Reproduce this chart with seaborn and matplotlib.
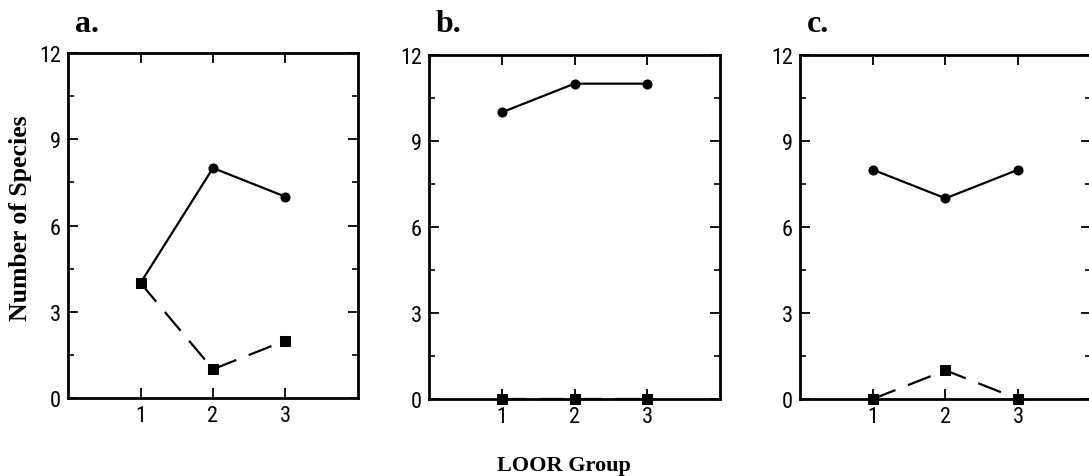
import numpy as np
import pandas as pd
import matplotlib
matplotlib.use("Agg")
import matplotlib.pyplot as plt
import seaborn as sns
from matplotlib.ticker import MultipleLocator, FixedLocator
from matplotlib import font_manager

# ---- data ----
groups = [1, 2, 3]
panel_labels = ["a.", "b.", "c."]
solid_a = [4, 8, 7]
dashed_a = [4, 1, 2]
solid_b = [10, 11, 11]
dashed_b = [0, 0, 0]
solid_c = [8, 7, 8]
dashed_c = [0, 1, 0]
yticks = [0, 3, 6, 9, 12]
x_label = "LOOR Group"
y_label = "Number of Species"

sns.set_style("ticks")
names = {f.name for f in font_manager.fontManager.ttflist}
cands = ['Liberation Sans Narrow', 'DejaVu Sans Condensed', 'Roboto Condensed']
tick_fam = [c for c in cands if c in names] + ['DejaVu Sans']
plt.rcParams['font.family'] = tick_fam
plt.rcParams['font.stretch'] = 'condensed'
for k in ['text.color', 'axes.labelcolor', 'xtick.color', 'ytick.color',
          'axes.edgecolor']:
    plt.rcParams[k] = 'black'

fig = plt.figure(figsize=(10.89, 4.77), dpi=100)
W, H = 1089, 477
boxes = [(68, 54, 358, 399), (429, 56, 720, 400), (800, 56, 1091, 400)]
series = [(solid_a, dashed_a), (solid_b, dashed_b), (solid_c, dashed_c)]

serif_bold = dict(family=['Liberation Serif', 'DejaVu Serif'], weight='bold',
                  color='black')

axes = []
for (l, t, r, b), (s, d), lab in zip(boxes, series, panel_labels):
    ax = fig.add_axes([l / W, 1 - b / H, (r - l) / W, (b - t) / H])
    axes.append(ax)
    df = pd.DataFrame({"group": groups, "solid": s, "dashed": d})
    sns.lineplot(data=df, x="group", y="solid", ax=ax, color="black",
                 linewidth=1.6, marker="o", markersize=6.5,
                 markeredgecolor="black", clip_on=False)
    sns.lineplot(data=df, x="group", y="dashed", ax=ax, color="black",
                 linewidth=1.6, marker="s", markersize=6.5,
                 markeredgecolor="black", linestyle=(0, (11, 6)),
                 clip_on=False)
    ax.set_xlim(0, 4)
    ax.set_ylim(0, 12)
    ax.xaxis.set_major_locator(FixedLocator(groups))
    ax.yaxis.set_major_locator(FixedLocator(yticks))
    ax.yaxis.set_minor_locator(MultipleLocator(1.5))
    ax.tick_params(axis='both', which='major', direction='in', length=7,
                   width=1.3, top=True, right=True, labelsize=16, pad=5,
                   color='black', labelcolor='black')
    ax.tick_params(axis='y', which='minor', direction='in', length=4,
                   width=1.2, right=True, left=True)
    for sp in ax.spines.values():
        sp.set_linewidth(2.0)
        sp.set_color('black')
        sp.set_visible(True)
    ax.set_xlabel("")
    ax.set_ylabel("")
    fig.text(l / W + 7 / W, 1 - 24 / H, lab, fontsize=23,
             ha='left', va='center', **serif_bold)

fig.text(21 / W, 1 - 218 / H, y_label, rotation=90, ha='center',
         va='center', fontsize=18.5, **serif_bold)
fig.text(564 / W, 1 - 466 / H, x_label, ha='center', va='center',
         fontsize=16, **serif_bold)

fig.savefig("out.png", dpi=100, facecolor='white')
